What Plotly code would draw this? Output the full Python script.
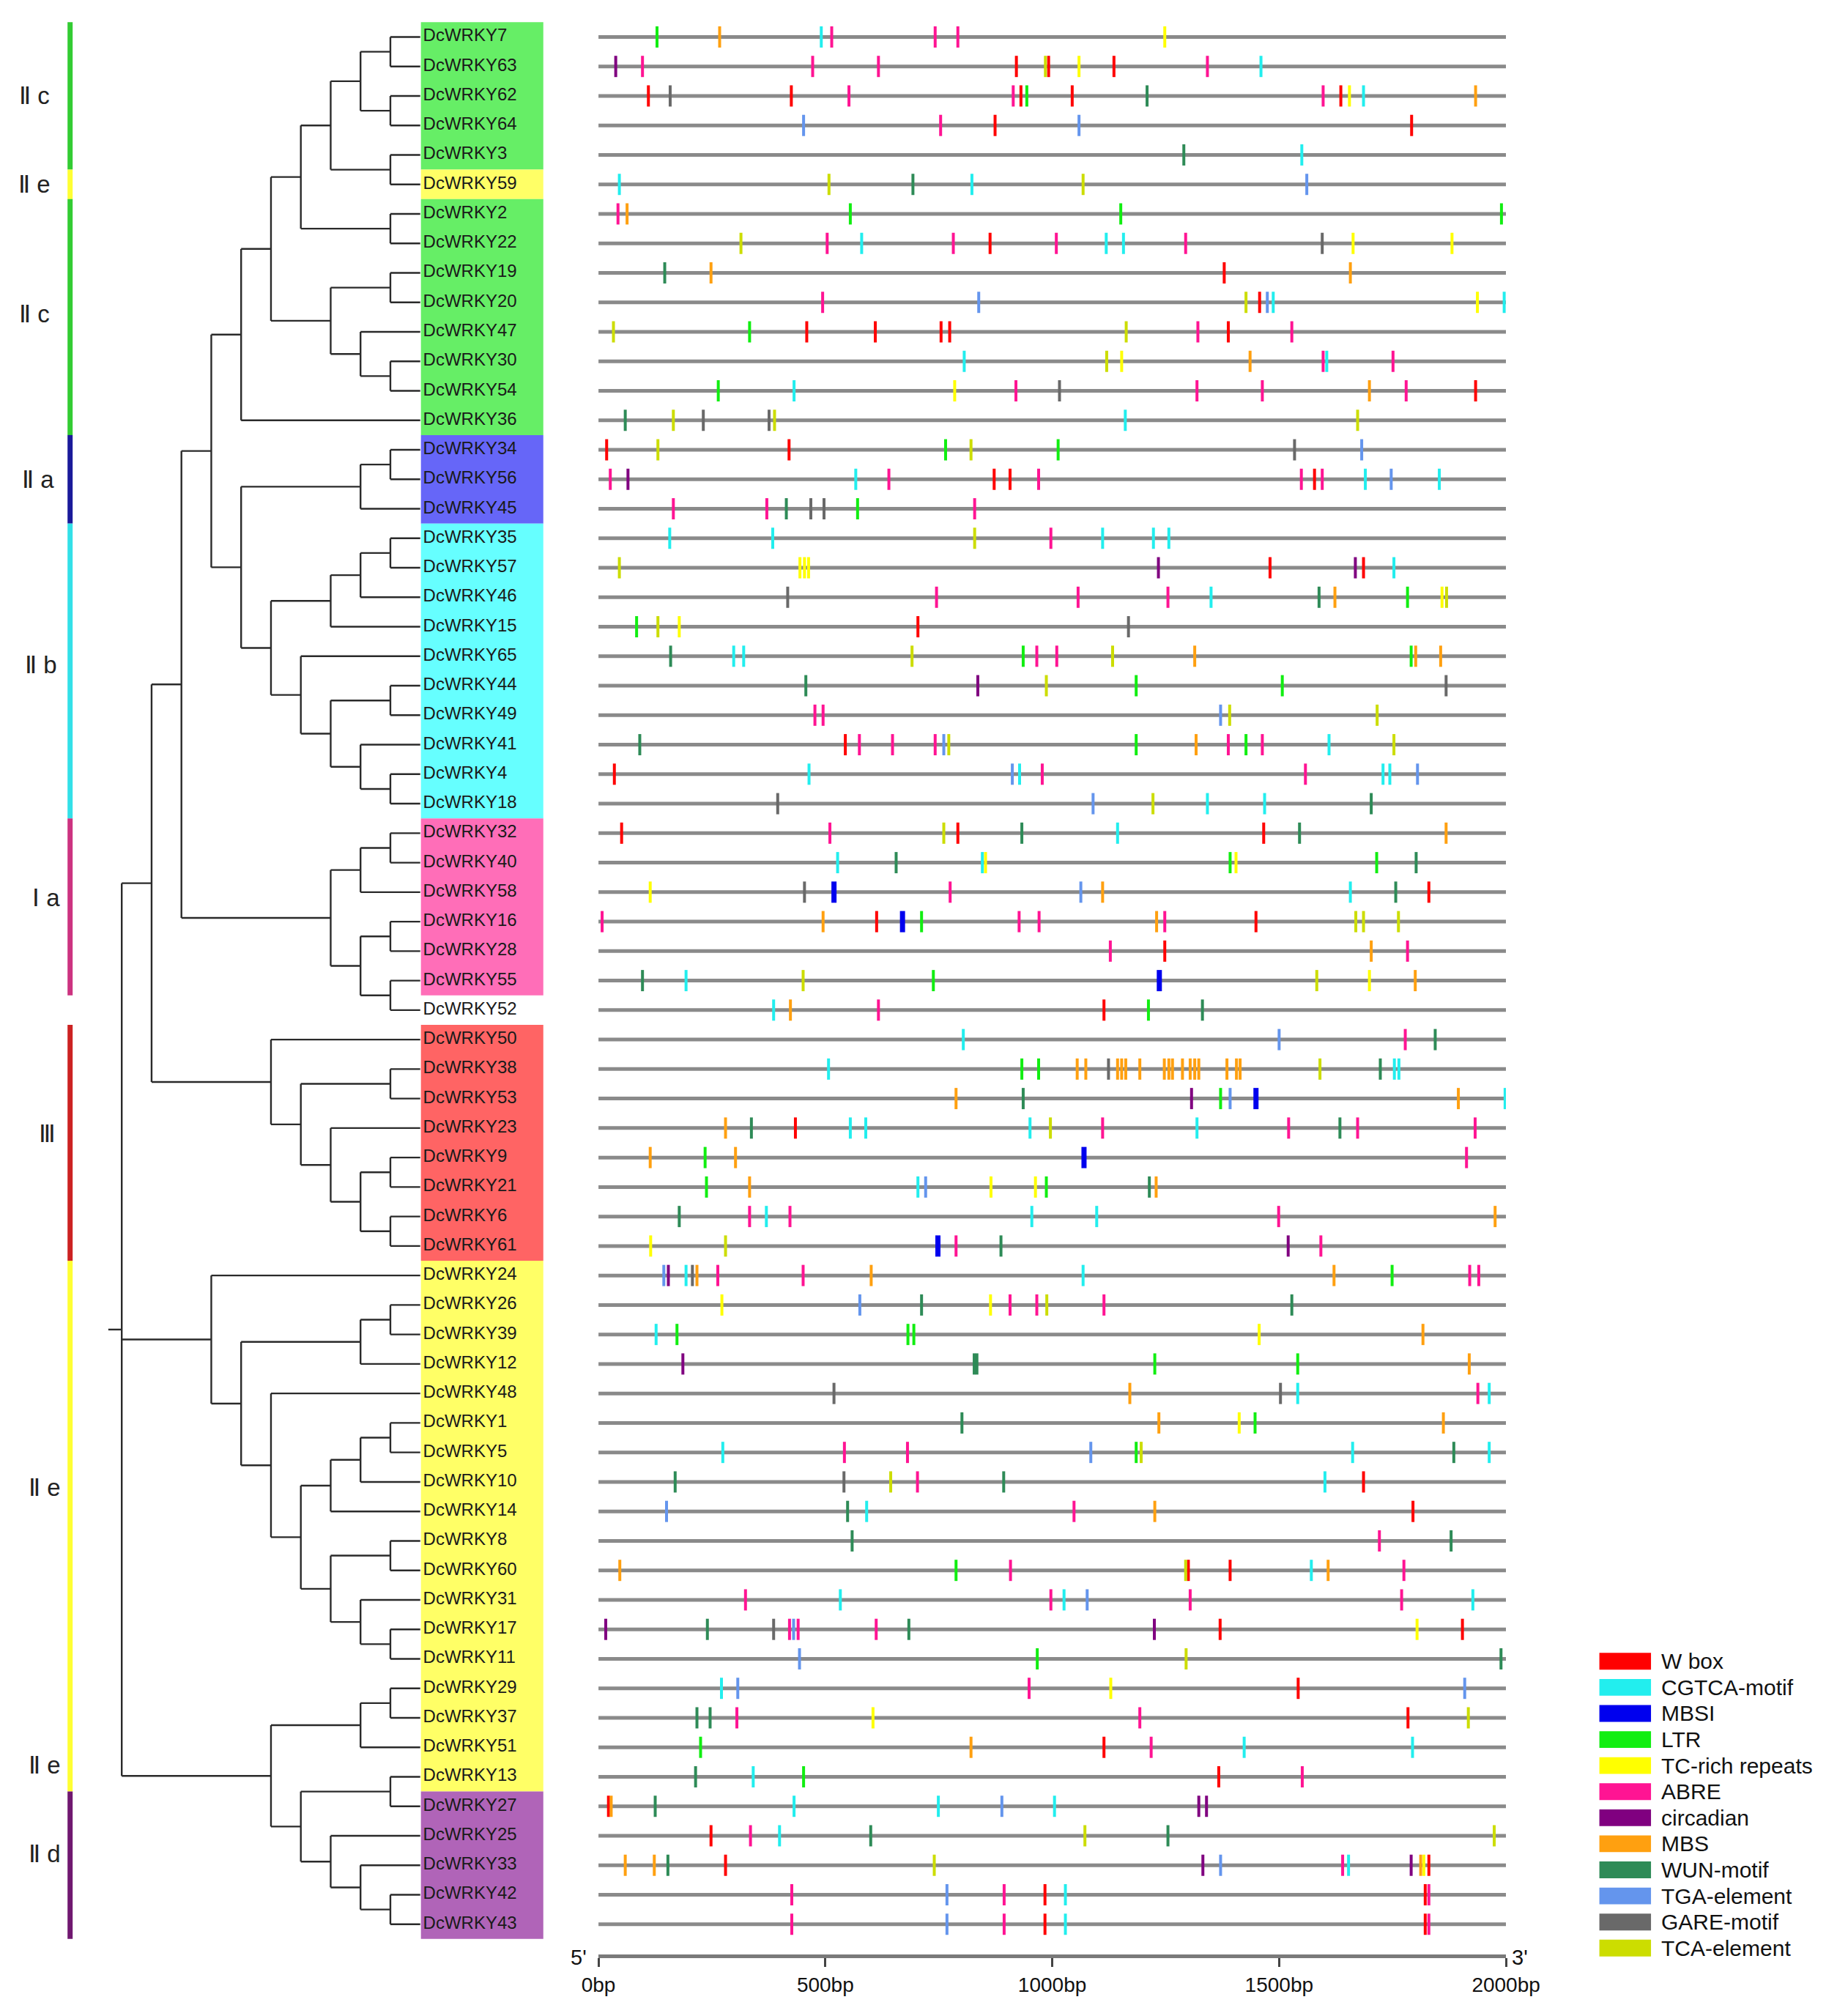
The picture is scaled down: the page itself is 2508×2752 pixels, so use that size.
"""Phylogeny of DcWRKY genes with the cis-acting elements in their 2 kb promoters."""

import plotly.graph_objects as go

# Genes, top to bottom as in the tree
GENES = [
    "DcWRKY7", "DcWRKY63", "DcWRKY62", "DcWRKY64", "DcWRKY3", "DcWRKY59", "DcWRKY2",
    "DcWRKY22", "DcWRKY19", "DcWRKY20", "DcWRKY47", "DcWRKY30", "DcWRKY54", "DcWRKY36",
    "DcWRKY34", "DcWRKY56", "DcWRKY45", "DcWRKY35", "DcWRKY57", "DcWRKY46", "DcWRKY15",
    "DcWRKY65", "DcWRKY44", "DcWRKY49", "DcWRKY41", "DcWRKY4", "DcWRKY18", "DcWRKY32",
    "DcWRKY40", "DcWRKY58", "DcWRKY16", "DcWRKY28", "DcWRKY55", "DcWRKY52", "DcWRKY50",
    "DcWRKY38", "DcWRKY53", "DcWRKY23", "DcWRKY9", "DcWRKY21", "DcWRKY6", "DcWRKY61",
    "DcWRKY24", "DcWRKY26", "DcWRKY39", "DcWRKY12", "DcWRKY48", "DcWRKY1", "DcWRKY5",
    "DcWRKY10", "DcWRKY14", "DcWRKY8", "DcWRKY60", "DcWRKY31", "DcWRKY17", "DcWRKY11",
    "DcWRKY29", "DcWRKY37", "DcWRKY51", "DcWRKY13", "DcWRKY27", "DcWRKY25", "DcWRKY33",
    "DcWRKY42", "DcWRKY43",
]

# Tree topology (gene numbers), built from sub-clades; root is a trichotomy
C_IIC = (((((7, 63), (62, 64)), (3, 59)), (2, 22)), ((19, 20), (47, (30, 54))))
C_IIA = ((34, 56), 45)
C_IIB = ((((35, 57), 46), 15), (65, ((44, 49), (41, (4, 18)))))
C_IA = (((32, 40), 58), ((16, 28), (55, 52)))
C_III = (50, ((38, 53), (23, ((9, 21), (6, 61)))))
C_IIE = (24, (((26, 39), 12), (48, ((((1, 5), 10), 14), ((8, 60), (31, (17, 11)))))))
C_IID = (((29, 37), 51), ((13, 27), (25, (33, (42, 43)))))
TREE = (((((C_IIC, 36), (C_IIA, C_IIB)), C_IA), C_III), C_IIE, C_IID)

# Subfamilies: label, first gene, last gene
CLADE_NAMES = ["Ⅱ c", "Ⅱ e", "Ⅱ c", "Ⅱ a", "Ⅱ b", "Ⅰ a", "Ⅲ", "Ⅱ e", "Ⅱ d"]
CLADE_FIRST = ["DcWRKY7", "DcWRKY59", "DcWRKY2", "DcWRKY34", "DcWRKY35", "DcWRKY32",
               "DcWRKY50", "DcWRKY24", "DcWRKY27"]
CLADE_LAST = ["DcWRKY3", "DcWRKY59", "DcWRKY36", "DcWRKY45", "DcWRKY18", "DcWRKY55",
              "DcWRKY61", "DcWRKY13", "DcWRKY43"]

# Cis-element sites: gene number -> positions (bp)
W_BOX = {63: [921, 992, 1136], 62: [110, 425, 931, 1044, 1636], 64: [874, 1792], 22: [863],
         19: [1379], 20: [1457], 47: [459, 610, 755, 774, 1388], 54: [1933], 34: [18, 420],
         56: [872, 907, 1578], 57: [1480, 1686], 15: [704], 41: [544], 4: [35],
         32: [51, 792, 1466], 58: [1830], 16: [613, 1449], 28: [1248], 52: [1114], 23: [434],
         60: [1300, 1392], 14: [1795], 10: [1686], 17: [1370, 1904], 29: [1542], 37: [1784],
         51: [1114], 13: [1367], 27: [22], 25: [248], 33: [280, 1830], 42: [984, 1822],
         43: [984, 1822]}
CGTCA = {7: [491], 63: [1460], 62: [1686], 3: [1550], 59: [46, 823], 22: [580, 1119, 1157],
         20: [1487, 1996], 30: [806, 1605], 54: [431], 36: [1161], 56: [567, 1690, 1853],
         35: [157, 384, 1111, 1223, 1257], 57: [1753], 46: [1350], 65: [298, 320], 41: [1610],
         4: [464, 928, 1729, 1744], 18: [1342, 1468], 32: [1144], 40: [527, 846], 58: [1657],
         55: [193], 52: [386], 50: [804], 38: [507, 1754, 1764], 53: [1998],
         23: [555, 589, 951, 1319], 21: [704], 6: [370, 955, 1098], 24: [193, 1068], 39: [127],
         48: [1541, 1963], 5: [274, 1662, 1963], 10: [1601], 14: [591], 60: [1571],
         31: [533, 1026, 1927], 29: [271], 51: [1423, 1794], 13: [341], 27: [431, 749, 1005],
         25: [399], 33: [1653], 42: [1029], 43: [1029]}
MBSI = {58: [519], 16: [670], 55: [1236], 53: [1449], 9: [1070], 61: [748]}
LTR = {7: [129], 62: [944], 2: [555, 1151, 1990], 47: [333], 54: [264], 34: [765, 1013],
       45: [571], 46: [1783], 15: [84], 65: [936, 1791], 44: [1185, 1507], 41: [1185, 1427],
       40: [1392, 1715], 16: [712], 55: [738], 52: [1212], 38: [933, 970], 53: [1371], 9: [235],
       21: [238, 987], 24: [1749], 39: [173, 682, 695], 12: [1226, 1541], 1: [1447], 5: [1185],
       60: [788], 11: [967], 51: [225], 13: [452]}
TC_RICH = {7: [1248], 63: [1059], 62: [1655], 22: [1663, 1881], 20: [1937], 30: [1153],
           54: [785], 57: [444, 454, 463], 46: [1859], 15: [178], 40: [853, 1405], 58: [114],
           55: [1699], 21: [865, 963], 61: [115], 26: [272, 864], 39: [1456], 1: [1412],
           17: [1804], 29: [1129], 37: [605], 33: [1819]}
ABRE = {7: [514, 742, 792], 63: [97, 472, 617, 1342], 62: [552, 914, 1597], 64: [754], 2: [43],
        22: [504, 782, 1009, 1294], 20: [494], 47: [1321, 1528], 30: [1597, 1751],
        54: [920, 1319, 1463, 1780], 56: [26, 640, 970, 1549, 1595], 45: [165, 371, 829],
        35: [997], 46: [745, 1057, 1255], 65: [966, 1010], 49: [477, 495],
        41: [575, 648, 742, 1388, 1463], 4: [978, 1558], 32: [510], 58: [775],
        16: [8, 927, 971, 1248], 28: [1128, 1783], 52: [617], 50: [1778],
        23: [1111, 1521, 1673, 1932], 9: [1913], 6: [333, 422, 1499], 61: [788, 1592],
        24: [263, 451, 1920, 1940], 26: [907, 966, 1114], 48: [1938], 5: [542, 681], 10: [703],
        14: [1048], 8: [1721], 60: [908, 1775], 31: [324, 997, 1304, 1770], 17: [421, 440, 612],
        29: [949], 37: [305, 1193], 51: [1218], 13: [1551], 25: [335], 33: [1640],
        42: [426, 894, 1830], 43: [426, 894, 1830]}
CIRCADIAN = {63: [38], 56: [65], 57: [1234, 1668], 44: [836], 53: [1307], 61: [1520], 24: [154],
             12: [186], 17: [16, 1225], 27: [1323, 1340], 33: [1332, 1791]}
MBS = {7: [267], 62: [1933], 2: [63], 19: [248, 1657], 30: [1436], 54: [1699], 46: [1623],
       65: [1314, 1801, 1856], 41: [1317], 32: [1868], 58: [1111], 16: [495, 1230], 28: [1703],
       55: [1800], 52: [423],
       38: [1055, 1074, 1144, 1153, 1162, 1193, 1247, 1257, 1265, 1287, 1304, 1314, 1323,
            1385, 1406, 1414],
       53: [788, 1895], 23: [280], 9: [114, 302], 21: [333, 1229], 6: [1976],
       24: [217, 601, 1621], 39: [1817], 12: [1919], 48: [1171], 1: [1235, 1862], 14: [1226],
       60: [47, 1608], 51: [821], 27: [28], 33: [59, 123, 1812]}
WUN = {62: [1209], 3: [1290], 59: [693], 19: [146], 36: [59], 45: [414], 46: [1588], 65: [159],
       44: [457], 41: [91], 18: [1703], 32: [933, 1545], 40: [656, 1802], 58: [1757], 55: [97],
       52: [1331], 50: [1844], 38: [1723], 53: [936], 23: [337, 1634], 21: [1214], 6: [178],
       61: [887], 26: [712, 1528], 12: [828, 834], 1: [801], 5: [1885], 10: [169, 893],
       14: [549], 8: [559, 1879], 17: [240, 684], 11: [1989], 37: [217, 246], 13: [214],
       27: [125], 25: [600, 1255], 33: [153]}
TGA = {64: [452, 1059], 59: [1561], 20: [838, 1474], 34: [1682], 56: [1747], 49: [1371],
       41: [761], 4: [912, 1805], 18: [1090], 58: [1063], 50: [1500], 53: [1392], 21: [721],
       24: [144], 26: [576], 5: [1085], 14: [150], 31: [1077], 17: [430], 11: [443],
       29: [307, 1909], 27: [889], 33: [1371], 42: [768], 43: [768]}
GARE = {62: [158], 22: [1595], 54: [1016], 36: [231, 376], 34: [1534], 45: [468, 497],
        46: [417], 15: [1168], 44: [1868], 18: [395], 58: [454], 38: [1124], 24: [207],
        48: [519, 1503], 10: [541], 17: [386]}
TCA = {63: [985], 59: [508, 1068], 22: [314], 20: [1427], 47: [33, 1163], 30: [1120],
       36: [165, 388, 1673], 34: [131, 821], 35: [829], 57: [46], 46: [1869], 15: [131],
       65: [691, 1133], 44: [987], 49: [1391, 1716], 41: [772, 1753], 18: [1222], 32: [761],
       16: [1669, 1686, 1763], 55: [451, 1583], 38: [1590], 23: [996], 61: [280], 26: [988],
       5: [1196], 10: [644], 60: [1294], 11: [1295], 37: [1917], 25: [1072, 1974], 33: [740]}

ELEMENT_NAMES = ["W box", "CGTCA-motif", "MBSI", "LTR", "TC-rich repeats", "ABRE",
                 "circadian", "MBS", "WUN-motif", "TGA-element", "GARE-motif", "TCA-element"]
ELEMENT_SITES = [W_BOX, CGTCA, MBSI, LTR, TC_RICH, ABRE, CIRCADIAN, MBS, WUN, TGA, GARE, TCA]

PROMOTER_TICKS = [0, 500, 1000, 1500, 2000]

# ---- styling ----
ELEMENT_COLORS = ["#ff0000", "#22eeee", "#0000ee", "#11ee11", "#ffff00", "#ff1493",
                  "#800080", "#ffa010", "#2e8b57", "#6495ed", "#696969", "#ccdd00"]
CLADE_BAR = ["#33cc33", "#ffff33", "#33cc33", "#1a1a9a", "#33e0e8", "#cc3380", "#cc2222",
             "#ffff33", "#701870"]
CLADE_BOX = ["#66ee66", "#ffff66", "#66ee66", "#6666f8", "#66ffff", "#ff6eb8", "#ff6464",
             "#ffff66", "#b064b8"]
FONT = "Liberation Sans, Arial, sans-serif"

W0, H0 = 2508, 2752            # canvas (px)
ROW0, ROW_STEP = 42.7, 40.49   # px of first row and row spacing
LEAF_PX, LEVEL_PX = 562, 42.2  # px of tree tips and per tree level
BP0_PX, BP2000_PX = 814, 2097


def px_to_row(p):
    return (p - ROW0) / ROW_STEP


def px_to_level(p):
    return (LEAF_PX - p) / LEVEL_PX


def num(name):
    return int(name.replace("DcWRKY", ""))


row_of = {num(g): i for i, g in enumerate(GENES)}


def layout_tree(node, segs):
    """Return (height, y) of node; collect branch segments (xs, ys)."""
    if isinstance(node, int):
        return 0, row_of[node]
    info = [layout_tree(c, segs) for c in node]
    h = 1 + max(i[0] for i in info)
    ys = [i[1] for i in info]
    segs.append(((h, h), (ys[0], ys[-1])))
    for ch, cy in info:
        segs.append(((h, ch), (cy, cy)))
    return h, (ys[0] + ys[-1]) / 2


fig = go.Figure()

# tree
segs = []
root_h, root_y = layout_tree(TREE, segs)
segs.append(((root_h + 0.45, root_h), (root_y, root_y)))
tx, ty = [], []
for xs, ys in segs:
    tx += [xs[0], xs[1], None]
    ty += [ys[0], ys[1], None]
fig.add_trace(go.Scatter(x=tx, y=ty, mode="lines", xaxis="x", yaxis="y",
                         line=dict(color="#2a2a2a", width=2.4), hoverinfo="skip",
                         showlegend=False))

# clade bars and name boxes
shapes = []
bar_level = px_to_level(67)
for k, name in enumerate(CLADE_NAMES):
    r0, r1 = row_of[num(CLADE_FIRST[k])], row_of[num(CLADE_LAST[k])]
    fig.add_trace(go.Scatter(x=[bar_level, bar_level], y=[r0 - 0.5, r1 + 0.5], mode="lines",
                             xaxis="x", yaxis="y", line=dict(color=CLADE_BAR[k], width=7),
                             hoverinfo="skip", showlegend=False))
    shapes.append(dict(type="rect", xref="x", yref="y", x0=px_to_level(563),
                       x1=px_to_level(736), y0=r0 - 0.5, y1=r1 + 0.5,
                       fillcolor=CLADE_BOX[k], line=dict(width=0), layer="below"))

fig.add_trace(go.Scatter(x=[px_to_level(566)] * len(GENES), y=list(range(len(GENES))),
                         mode="text", text=GENES, textposition="middle right",
                         textfont=dict(family=FONT, size=24, color="#1a1a1a"),
                         xaxis="x", yaxis="y", hoverinfo="skip", showlegend=False))

# clade labels (label px-x, row)
label_spots = [(17, 2.0), (17, 5.0), (17, 9.4), (22, 15.0), (26, 21.3), (33, 29.2),
               (35, 37.2), (31, 49.2), (31, 61.6)]
annotations = []
for name, (lx, lr) in zip(CLADE_NAMES, label_spots):
    annotations.append(dict(x=px_to_level(lx), y=lr, xref="x", yref="y", text=name,
                            showarrow=False, font=dict(family=FONT, size=33, color="#222")))
annotations.append(dict(x=px_to_level(31), y=58.6, xref="x", yref="y", text=CLADE_NAMES[7],
                        showarrow=False, font=dict(family=FONT, size=33, color="#222")))

# promoter backbones
bx, by = [], []
for i in range(len(GENES)):
    bx += [PROMOTER_TICKS[0], PROMOTER_TICKS[-1], None]
    by += [i, i, None]
fig.add_trace(go.Scatter(x=bx, y=by, mode="lines", xaxis="x2", yaxis="y",
                         line=dict(color="#8a8a8a", width=5), hoverinfo="skip",
                         showlegend=False))

# cis-elements
for name, sites, color in zip(ELEMENT_NAMES, ELEMENT_SITES, ELEMENT_COLORS):
    ex, ey = [], []
    for gene, positions in sites.items():
        r = row_of[gene]
        for p in positions:
            ex += [p, p, None]
            ey += [r - 0.36, r + 0.36, None]
    fig.add_trace(go.Scatter(x=ex, y=ey, mode="lines", xaxis="x2", yaxis="y", name=name,
                             line=dict(color=color, width=7 if name == "MBSI" else 4),
                             hoverinfo="skip", showlegend=False))

# legend
for k, (name, color) in enumerate(zip(ELEMENT_NAMES, ELEMENT_COLORS)):
    cy = 2273 + 35.8 * k
    shapes.append(dict(type="rect", xref="paper", yref="paper",
                       x0=2229 / W0, x1=2302 / W0, y0=1 - (cy + 11.5) / H0,
                       y1=1 - (cy - 11.5) / H0, fillcolor=color, line=dict(width=0)))
    annotations.append(dict(x=2314 / W0, y=1 - cy / H0, xref="paper", yref="paper",
                            text=name, showarrow=False, xanchor="left", yanchor="middle",
                            font=dict(family=FONT, size=30, color="#111")))

# 5' / 3' marks
annotations.append(dict(x=772 / W0, y=1 - 2680 / H0, xref="paper", yref="paper", text="5'",
                        showarrow=False, yanchor="middle",
                        font=dict(family=FONT, size=29, color="#111")))
annotations.append(dict(x=2130 / W0, y=1 - 2680 / H0, xref="paper", yref="paper", text="3'",
                        showarrow=False, yanchor="middle",
                        font=dict(family=FONT, size=29, color="#111")))

fig.update_layout(
    width=2492, height=2736,
    margin=dict(l=0, r=0, t=0, b=0),
    paper_bgcolor="white", plot_bgcolor="white",
    showlegend=False,
    shapes=shapes,
    annotations=annotations,
    xaxis=dict(domain=[0, 760 / W0], range=[px_to_level(0), px_to_level(760)],
               visible=False, fixedrange=True),
    xaxis2=dict(domain=[BP0_PX / W0, BP2000_PX / W0], range=[0, 2000], anchor="free",
                position=1 - 2678 / H0, showline=True, linecolor="#7a7a7a", linewidth=5,
                showgrid=False, zeroline=False, ticks="outside", ticklen=12, tickwidth=3,
                tickcolor="#444", tickvals=PROMOTER_TICKS,
                ticktext=[f"{t}bp" for t in PROMOTER_TICKS],
                tickfont=dict(family=FONT, size=28, color="#111")),
    yaxis=dict(domain=[0, 1], range=[px_to_row(H0), px_to_row(0)], visible=False),
)

fig.write_html("out.html")
